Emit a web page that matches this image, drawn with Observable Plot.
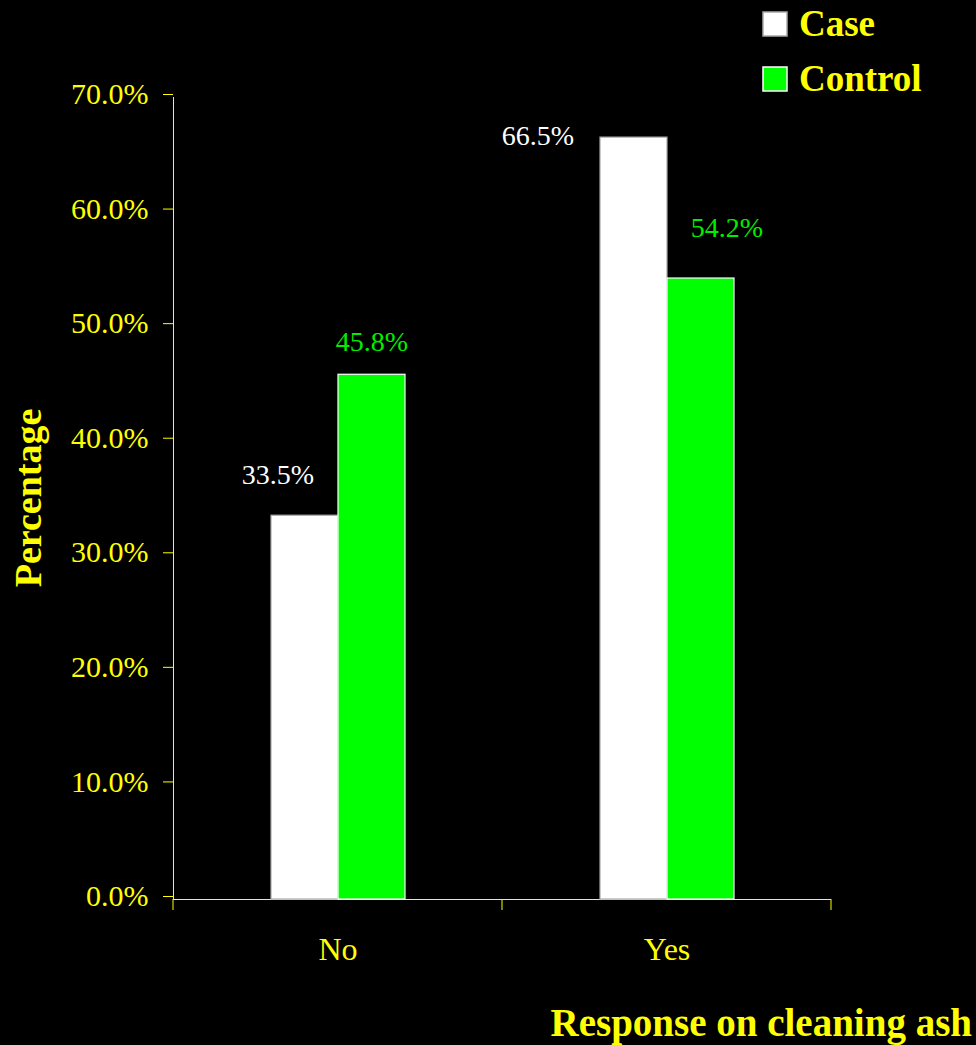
<!DOCTYPE html>
<html>
<head>
<meta charset="utf-8">
<script src="https://cdn.jsdelivr.net/npm/d3@7"></script>
<script src="https://cdn.jsdelivr.net/npm/@observablehq/plot@0.6"></script>
<style>
  html, body { margin: 0; padding: 0; background: #000; }
  #chart { width: 976px; height: 1045px; overflow: hidden; }
</style>
</head>
<body>
<div id="chart"></div>
<script>
// Responses and the share of each group giving them
const categories = ["No", "Yes"];
const groups = ["Case", "Control"];
const caseValues = [33.5, 66.5];
const controlValues = [45.8, 54.2];
const yTicks = [0, 10, 20, 30, 40, 50, 60, 70];

const yellow = "#ffff00";
const barFill = {Case: "#ffffff", Control: "#00ff00"};
const barStroke = {Case: "#a8a8a8", Control: "#ffffff"};
const labelFill = {Case: "#ffffff", Control: "#00ee00"};
const serif = "'Liberation Serif', 'Times New Roman', serif";

const rows = categories.flatMap((c, i) => [
  {response: c, group: "Case", pct: caseValues[i]},
  {response: c, group: "Control", pct: controlValues[i]}
]);

const fmt = v => v.toFixed(1) + "%";

// hand-placed nudges for the value labels (relative to each bar's top centre)
const labelNudge = {
  "No|Case": [-27, -41],
  "No|Control": [0, -33],
  "Yes|Case": [-96, -2],
  "Yes|Control": [26, -50]
};

const barMarks = groups.map(g =>
  Plot.barY(rows.filter(d => d.group === g), {
    fx: "response", x: "group", y: "pct",
    fill: barFill[g], stroke: barStroke[g], strokeWidth: 1.2
  })
);

const labelMarks = rows.map(d => {
  const [dx, dy] = labelNudge[d.response + "|" + d.group];
  return Plot.text([d], {
    fx: "response", x: "group", y: "pct", text: r => fmt(r.pct),
    dx, dy, lineAnchor: "middle", fontSize: 28, fill: labelFill[d.group]
  });
});

const plot = Plot.plot({
  width: 976,
  height: 1045,
  marginTop: 97,
  marginRight: 145,
  marginBottom: 146,
  marginLeft: 172,
  style: {background: "#000", color: yellow, fontFamily: serif, overflow: "visible"},
  fx: {domain: categories, padding: 0, label: null},
  x: {domain: groups, paddingInner: 0, paddingOuter: 1.44, axis: null},
  y: {domain: [0, 70], label: null},
  marks: [
    Plot.axisY(yTicks, {tickSize: 10, tickPadding: 15, tickFormat: fmt, fontSize: 30, dy: -3, label: null}),
    Plot.axisFx({anchor: "bottom", tickSize: 0, tickPadding: 38, fontSize: 32, label: null}),
    Plot.frame({anchor: "left", fx: "No", stroke: yellow}),
    Plot.ruleY([0], {stroke: yellow}),
    ...barMarks,
    ...labelMarks
  ]
});

const svg = d3.select(plot);

// tick marks at the boundaries between response categories
const fx = plot.scale("fx");
const y = plot.scale("y");
const y0 = y.apply(0);
const bounds = categories.map(c => fx.apply(c)).concat([fx.apply(categories[categories.length - 1]) + fx.bandwidth]);
svg.append("g")
  .attr("stroke", yellow)
  .selectAll("line")
  .data(bounds)
  .join("line")
  .attr("x1", d => d).attr("x2", d => d)
  .attr("y1", y0).attr("y2", y0 + 11);

// axis titles
svg.append("text")
  .attr("transform", `translate(41,${(y.range[0] + y.range[1]) / 2}) rotate(-90)`)
  .attr("text-anchor", "middle")
  .attr("font-family", serif)
  .attr("font-weight", "bold")
  .attr("font-size", 38)
  .attr("fill", yellow)
  .text("Percentage");

svg.append("text")
  .attr("x", 972)
  .attr("y", 1036)
  .attr("text-anchor", "end")
  .attr("font-family", serif)
  .attr("font-weight", "bold")
  .attr("font-size", 39)
  .attr("fill", yellow)
  .text("Response on cleaning ash");

// legend
const legend = svg.append("g").attr("transform", "translate(763,12)");
const item = legend.selectAll("g")
  .data(groups)
  .join("g")
  .attr("transform", (d, i) => `translate(0,${i * 55})`);
item.append("rect")
  .attr("width", 24).attr("height", 24)
  .attr("fill", d => barFill[d])
  .attr("stroke", d => barStroke[d])
  .attr("stroke-width", 1.5);
item.append("text")
  .attr("x", 36).attr("y", 24)
  .attr("text-anchor", "start")
  .attr("font-family", serif)
  .attr("font-weight", "bold")
  .attr("font-size", 37)
  .attr("fill", yellow)
  .text(d => d);

document.getElementById("chart").appendChild(plot);
</script>
</body>
</html>
